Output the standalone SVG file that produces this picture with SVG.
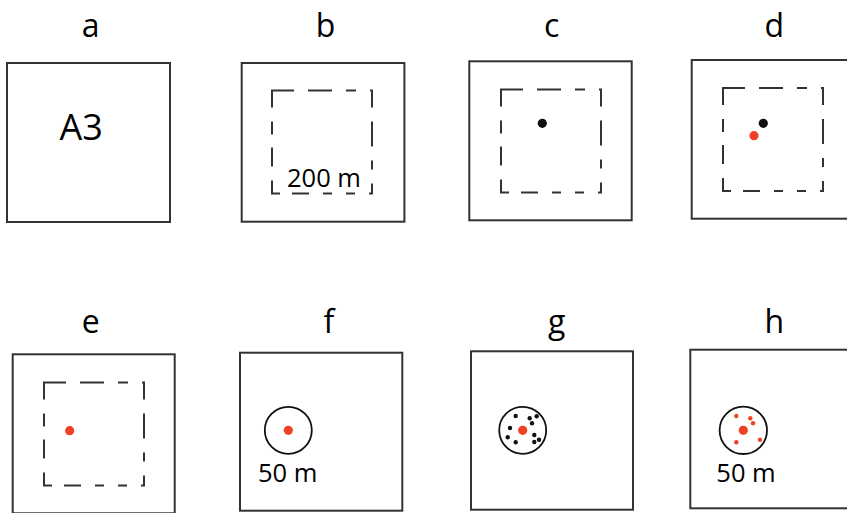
<svg xmlns="http://www.w3.org/2000/svg" xmlns:xlink="http://www.w3.org/1999/xlink" width="847" height="513" viewBox="0 0 847 513">
<style>
.box{fill:none;stroke:#333;stroke-width:2}
.dash{fill:none;stroke:#333;stroke-width:2;stroke-linejoin:miter;stroke-linecap:butt}
.ring{fill:none;stroke:#111;stroke-width:1.8}
.lbl{font-family:"Open Sans","Noto Sans",sans-serif;font-size:32px;fill:#000;text-anchor:middle}
.txt{font-family:"Open Sans","Noto Sans",sans-serif;font-size:25.5px;fill:#000;text-anchor:middle}
.red{fill:#ef4123}
.blk{fill:#111}
</style>
<defs>
<path id="dsq" class="dash" d="M0,17V0H22M36,0H60M74,0H84M98,0H100V17M100,31V56M100,70V79M100,93V103H97M83,103H74M60,103H51M37,103H20M8,103H0V90M0,76V57M0,44V31"/>
</defs>
<g id="panel-a">
<rect class="box" x="7" y="63" width="163" height="159"/>
<text class="lbl" x="90.7" y="37">a</text>
<text class="txt" x="81.3" y="139.5" style="font-size:36px">A3</text>
</g>
<g id="panel-b">
<rect class="box" x="241.7" y="63" width="162.7" height="158.7"/>
<text class="lbl" x="325.5" y="37">b</text>
<use xlink:href="#dsq" x="272" y="90.5"/>
<text class="txt" x="324" y="186.7">200 m</text>
</g>
<g id="panel-c">
<rect class="box" x="469.3" y="61.3" width="162.4" height="159"/>
<text class="lbl" x="551.7" y="37">c</text>
<use xlink:href="#dsq" x="501" y="89.5"/>
<circle class="blk" cx="542.3" cy="123.3" r="4.6"/>
</g>
<g id="panel-d">
<rect class="box" x="691.7" y="60" width="162.7" height="158.7"/>
<text class="lbl" x="774.3" y="37">d</text>
<use xlink:href="#dsq" x="723" y="88"/>
<circle class="blk" cx="763.3" cy="123.3" r="4.6"/>
<circle class="red" cx="754" cy="135.7" r="4.6"/>
</g>
<g id="panel-e">
<rect class="box" x="12.7" y="354.3" width="162" height="159"/>
<text class="lbl" x="90.7" y="333">e</text>
<use xlink:href="#dsq" x="44" y="382.5"/>
<circle class="red" cx="69.7" cy="430.7" r="4.6"/>
</g>
<g id="panel-f">
<rect class="box" x="240" y="352.7" width="162.3" height="158"/>
<text class="lbl" x="329" y="333">f</text>
<circle class="ring" cx="288.3" cy="430.3" r="23.5"/>
<circle class="red" cx="288.3" cy="430.3" r="4.6"/>
<text class="txt" x="287.7" y="482.3">50 m</text>
</g>
<g id="panel-g">
<rect class="box" x="471" y="351.3" width="162" height="158.4"/>
<text class="lbl" x="556.7" y="333">g</text>
<circle class="ring" cx="522.7" cy="430.3" r="23.5"/>
<circle class="red" cx="522.7" cy="430.3" r="4.6"/>
<circle class="blk" cx="515.7" cy="416" r="2.2"/>
<circle class="blk" cx="529.7" cy="418.3" r="2.2"/>
<circle class="blk" cx="536.7" cy="416.3" r="2.2"/>
<circle class="blk" cx="532" cy="423.3" r="2.2"/>
<circle class="blk" cx="510" cy="428" r="2.2"/>
<circle class="blk" cx="507.7" cy="437.3" r="2.2"/>
<circle class="blk" cx="515.7" cy="442.3" r="2.2"/>
<circle class="blk" cx="534.3" cy="435" r="2.2"/>
<circle class="blk" cx="539" cy="439.7" r="2.2"/>
<circle class="blk" cx="534.3" cy="442" r="2.2"/>
</g>
<g id="panel-h">
<rect class="box" x="690.3" y="349.7" width="163" height="158.6"/>
<text class="lbl" x="774.3" y="333">h</text>
<circle class="ring" cx="743.3" cy="430.3" r="23.7"/>
<circle class="red" cx="743.3" cy="430.3" r="4.6"/>
<circle class="red" cx="736.3" cy="416" r="2.2"/>
<circle class="red" cx="750.3" cy="418.3" r="2.2"/>
<circle class="red" cx="753" cy="423.3" r="2.2"/>
<circle class="red" cx="736.3" cy="442.3" r="2.2"/>
<circle class="red" cx="760" cy="439.7" r="2.2"/>
<text class="txt" x="746" y="482.3">50 m</text>
</g>
<g id="connectors"/>
</svg>
